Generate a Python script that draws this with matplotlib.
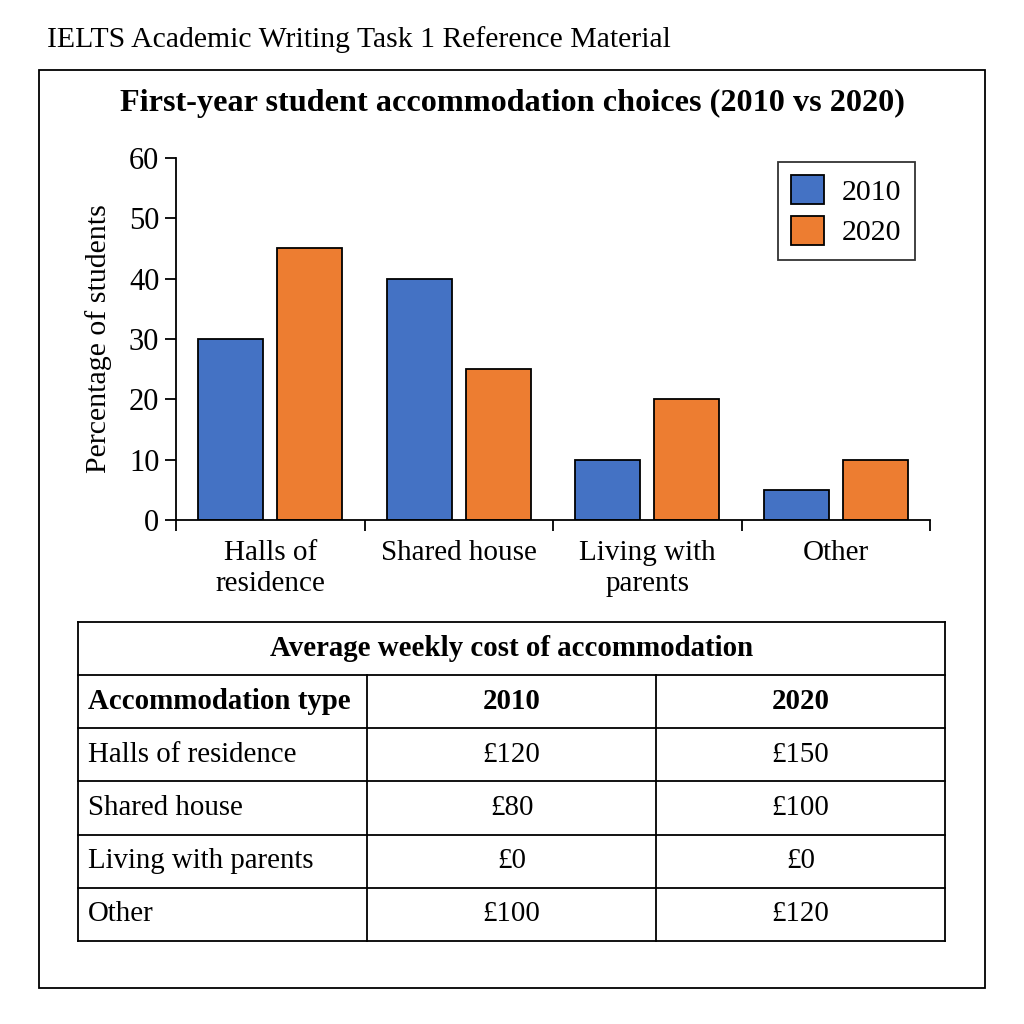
import matplotlib.pyplot as plt
import numpy as np
from matplotlib.patches import Rectangle

plt.rcParams['font.family'] = ['Liberation Serif', 'DejaVu Serif']

categories = ['Halls of\nresidence', 'Shared house', 'Living with\nparents', 'Other']
pct_2010 = [30, 40, 10, 5]
pct_2020 = [45, 25, 20, 10]

table_title = 'Average weekly cost of accommodation'
table_header = ['Accommodation type', '2010', '2020']
table_types = ['Halls of residence', 'Shared house', 'Living with parents', 'Other']
cost_2010 = ['£120', '£80', '£0', '£100']
cost_2020 = ['£150', '£100', '£0', '£120']

blue = '#4472C4'
orange = '#ED7D31'

fig = plt.figure(figsize=(10.24, 10.24), dpi=100)

# outer frame + caption
fig.patches.append(Rectangle((0.0381, 0.0352), 0.9238, 0.8965, transform=fig.transFigure,
                             fill=False, edgecolor='black', linewidth=1.3))
fig.text(0.046, 0.961, 'IELTS Academic Writing Task 1 Reference Material', fontsize=21.4,
         ha='left', va='center')
fig.text(0.5, 0.899, 'First-year student accommodation choices (2010 vs 2020)', fontsize=23.2,
         fontweight='bold', ha='center', va='center')

# bar chart
ax = fig.add_axes([0.1719, 0.4922, 0.7363, 0.3535])
x = np.arange(len(categories))
w = 0.345
ax.bar(x - 0.21, pct_2010, w, color=blue, edgecolor='black', linewidth=1.3, label='2010')
ax.bar(x + 0.21, pct_2020, w, color=orange, edgecolor='black', linewidth=1.3, label='2020')
ax.set_xlim(-0.5, 3.5)
ax.set_ylim(0, 60)
ax.set_yticks(range(0, 61, 10))
ax.tick_params(axis='y', labelsize=22, length=8, width=1.3, direction='out', pad=4)
ax.set_xticks(np.arange(-0.5, 4, 1))
ax.set_xticklabels([])
ax.tick_params(axis='x', length=8, width=1.3, direction='out')
for i, c in enumerate(categories):
    ax.text(i, -3.4, c, ha='center', va='top', fontsize=21, linespacing=1.22)
ax.spines['top'].set_visible(False)
ax.spines['right'].set_visible(False)
ax.spines['left'].set_linewidth(1.3)
ax.spines['bottom'].set_linewidth(1.3)
ax.set_ylabel('Percentage of students', fontsize=21.5, labelpad=12)
leg = ax.legend(loc='upper right', bbox_to_anchor=(0.98, 0.99), borderaxespad=0,
                fontsize=21.5, frameon=True,
                fancybox=False, edgecolor='black', handlelength=1.1, handleheight=1.1,
                borderpad=0.45, labelspacing=0.35, handletextpad=0.6)
leg.get_frame().set_linewidth(1.3)

# cost table
tx = fig.add_axes([0.0762, 0.0811, 0.8467, 0.3115])
tx.set_xlim(0, 3)
tx.set_ylim(6, 0)
tx.axis('off')
lw = 1.3
for yy in range(7):
    tx.plot([0, 3], [yy, yy], color='black', linewidth=lw, clip_on=False)
tx.plot([0, 0], [0, 6], color='black', linewidth=lw, clip_on=False)
tx.plot([3, 3], [0, 6], color='black', linewidth=lw, clip_on=False)
for xx in [1, 2]:
    tx.plot([xx, xx], [1, 6], color='black', linewidth=lw, clip_on=False)
fs = 20.8
tx.text(1.5, 0.5, table_title, ha='center', va='center', fontsize=fs, fontweight='bold')
tx.text(0.035, 1.5, table_header[0], ha='left', va='center', fontsize=fs, fontweight='bold')
tx.text(1.5, 1.5, table_header[1], ha='center', va='center', fontsize=fs, fontweight='bold')
tx.text(2.5, 1.5, table_header[2], ha='center', va='center', fontsize=fs, fontweight='bold')
for r, (t, a, b) in enumerate(zip(table_types, cost_2010, cost_2020)):
    tx.text(0.035, r + 2.5, t, ha='left', va='center', fontsize=fs)
    tx.text(1.5, r + 2.5, a, ha='center', va='center', fontsize=fs)
    tx.text(2.5, r + 2.5, b, ha='center', va='center', fontsize=fs)

fig.savefig('out.png', dpi=100, facecolor='white')
